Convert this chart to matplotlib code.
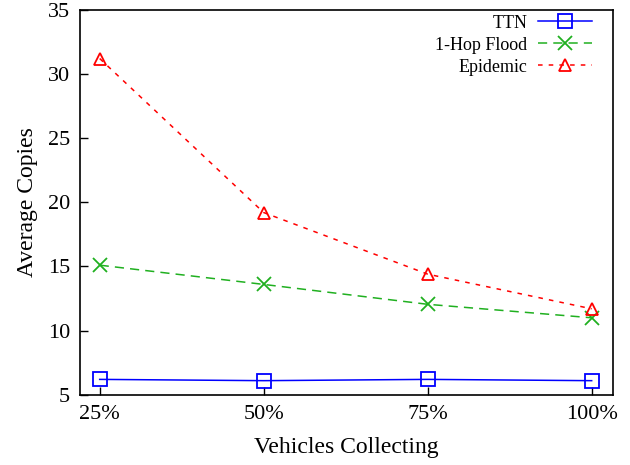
import numpy as np
import matplotlib.pyplot as plt

plt.rcParams['font.family'] = ['Liberation Serif', 'DejaVu Serif']

# Fraction of vehicles collecting and average number of copies per message
labels = ['25%', '50%', '75%', '100%']
ttn = [6.2, 6.1, 6.2, 6.1]
flood = [15.1, 13.6, 12.05, 11.0]
epidemic = [31.2, 19.2, 14.4, 11.7]

x = np.arange(len(labels))

fig = plt.figure(figsize=(6.3, 4.65), dpi=100)
ax = fig.add_axes([0.127, 0.151, 0.846, 0.828])

ax.plot(x, ttn, color='#0000ff', linestyle='-', lw=1.1, marker='s', ms=10,
        mfc='none', mew=1.3, label='TTN')
ax.plot(x, flood, color='#20b020', linestyle=(0, (6, 4)), lw=1.1, marker='x', ms=10,
        mew=1.3, label='1-Hop Flood')
ax.plot(x, epidemic, color='#ff0000', linestyle=(0, (3, 4)), lw=1.1, marker='^', ms=9,
        mfc='none', mew=1.3, label='Epidemic')

ax.set_xlim(-0.12, 3.13)
ax.set_ylim(5, 35)
ax.set_xticks(x)
ax.set_xticklabels(labels)
ax.set_yticks(np.arange(5, 36, 5))
ax.tick_params(direction='in', length=6, width=1, labelsize=16, pad=7)
for s in ax.spines.values():
    s.set_linewidth(1.2)

ax.set_xlabel('Vehicles Collecting', fontsize=17, labelpad=10)
ax.set_ylabel('Average Copies', fontsize=17, labelpad=7)

ax.legend(loc='upper right', bbox_to_anchor=(0.975, 1.006), frameon=False,
          markerfirst=False, fontsize=13, handlelength=3.0, labelspacing=0.28,
          borderaxespad=0.0, handletextpad=0.6)

plt.savefig('out.png', dpi=100)
